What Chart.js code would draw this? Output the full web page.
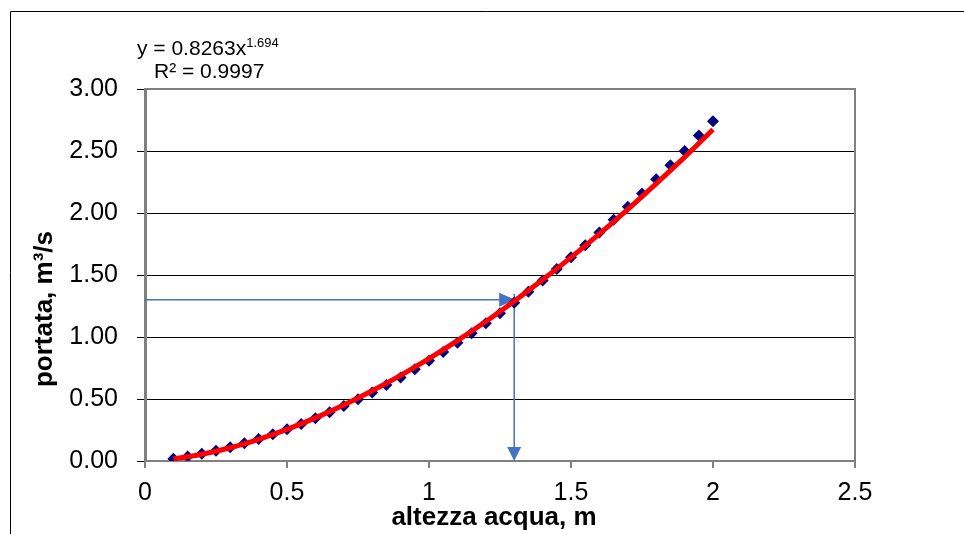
<!DOCTYPE html>
<html><head><meta charset="utf-8">
<script src="https://cdn.jsdelivr.net/npm/chart.js@4/dist/chart.umd.min.js"></script>
<style>html,body{margin:0;padding:0;background:#fff;}#wrap{width:964px;height:534px;position:relative;}</style>
</head><body><div id="wrap"><canvas id="c" width="964" height="534"></canvas></div>
<script>
// Measured data (water height m, discharge m3/s)
const heights = [0.10,0.15,0.20,0.25,0.30,0.35,0.40,0.45,0.50,0.55,0.60,0.65,0.70,0.75,0.80,0.85,0.90,0.95,1.00,1.05,1.10,1.15,1.20,1.25,1.30,1.35,1.40,1.45,1.50,1.55,1.60,1.65,1.70,1.75,1.80,1.85,1.90,1.95,2.00];
const discharges = [0.018,0.036,0.058,0.083,0.111,0.143,0.178,0.216,0.256,0.299,0.345,0.393,0.444,0.497,0.553,0.612,0.674,0.740,0.808,0.880,0.954,1.031,1.110,1.192,1.277,1.364,1.455,1.548,1.643,1.740,1.842,1.945,2.050,2.158,2.272,2.385,2.500,2.625,2.740];
// Power trendline y = 0.8263x^1.694
const trendX = [0.1,0.2,0.3,0.4,0.5,0.6,0.7,0.8,0.9,1.0,1.1,1.2,1.3,1.4,1.5,1.6,1.7,1.8,1.9,2.0];
const trendY = [0.017,0.054,0.107,0.175,0.255,0.348,0.452,0.566,0.691,0.826,0.971,1.125,1.289,1.461,1.642,1.832,2.030,2.237,2.451,2.674];
// Reading example (arrow)
const readX = [1.3];
const readY = [1.3];
const yTicks = [0,0.5,1,1.5,2,2.5,3];
const xTicks = [0,0.5,1,1.5,2,2.5];
const eqMain = "y = 0.8263x";
const eqExp = "1.694";
const eqR2 = "R² = 0.9997";
const xTitle = "altezza acqua, m";
const yTitle = "portata, m³/s";

const FONT = "'Liberation Sans', Arial, sans-serif";
const arrowColor = '#4472C4';

const decorPlugin = {
  id: 'decor',
  beforeDatasetsDraw(chart) {
    const {ctx, chartArea: a, scales: {x, y}} = chart;
    ctx.save();
    ctx.strokeStyle = '#808080'; ctx.lineWidth = 2;
    ctx.beginPath();
    ctx.moveTo(a.left, a.top); ctx.lineTo(a.right, a.top); ctx.lineTo(a.right, a.bottom);
    ctx.stroke();
    const px = x.getPixelForValue(readX[0]);
    const py = y.getPixelForValue(readY[0]);
    const y0 = y.getPixelForValue(0);
    ctx.strokeStyle = arrowColor; ctx.fillStyle = arrowColor; ctx.lineWidth = 1.5;
    ctx.beginPath(); ctx.moveTo(a.left, py); ctx.lineTo(px - 12, py); ctx.stroke();
    ctx.beginPath(); ctx.moveTo(px, py - 6); ctx.lineTo(px, y0 - 12); ctx.stroke();
    ctx.beginPath(); ctx.moveTo(px + 1, py); ctx.lineTo(px - 15, py - 7); ctx.lineTo(px - 15, py + 7); ctx.closePath(); ctx.fill();
    ctx.beginPath(); ctx.moveTo(px, y0); ctx.lineTo(px - 7, y0 - 14); ctx.lineTo(px + 7, y0 - 14); ctx.closePath(); ctx.fill();
    ctx.restore();
  },
  afterDraw(chart) {
    const {ctx} = chart;
    ctx.save();
    ctx.strokeStyle = '#000'; ctx.lineWidth = 1;
    ctx.beginPath(); ctx.moveTo(10.5, 534); ctx.lineTo(10.5, 11.5); ctx.lineTo(964, 11.5); ctx.stroke();
    ctx.fillStyle = '#000';
    ctx.textBaseline = 'alphabetic'; ctx.textAlign = 'left';
    ctx.font = '21px ' + FONT;
    ctx.fillText(eqMain, 137, 55);
    const w = ctx.measureText(eqMain).width;
    ctx.font = '13px ' + FONT;
    ctx.fillText(eqExp, 137 + w, 47);
    ctx.font = '21px ' + FONT;
    ctx.fillText(eqR2, 154, 78);
    ctx.font = 'bold 26px ' + FONT;
    ctx.textAlign = 'center'; ctx.textBaseline = 'middle';
    ctx.fillText(xTitle, 494, 518);
    ctx.translate(45, 309); ctx.rotate(-Math.PI / 2);
    ctx.fillText(yTitle, 0, 0);
    ctx.restore();
  }
};

new Chart(document.getElementById('c'), {
  type: 'scatter',
  data: {
    datasets: [
      {
        label: 'trend', type: 'line',
        data: trendX.map((v, i) => ({x: v, y: trendY[i]})),
        borderColor: '#FF0000', borderWidth: 5, pointRadius: 0, fill: false,
        cubicInterpolationMode: 'monotone', borderCapStyle: 'butt'
      },
      {
        label: 'portata',
        data: heights.map((v, i) => ({x: v, y: discharges[i]})),
        pointStyle: 'rectRot', pointRadius: 6, pointHoverRadius: 6,
        backgroundColor: '#000080', borderColor: '#000080', borderWidth: 0, showLine: false
      }
    ]
  },
  options: {
    responsive: false, animation: false, devicePixelRatio: 1,
    layout: {padding: {top: 89, right: 109, left: 0, bottom: 0}},
    plugins: {legend: {display: false}, tooltip: {enabled: false}},
    scales: {
      x: {
        type: 'linear', min: 0, max: 2.5,
        afterBuildTicks: s => { s.ticks = xTicks.map(v => ({value: v})); },
        afterFit: s => { s.height = 73; },
        ticks: {color: '#000', font: {family: FONT, size: 25}, padding: 10, maxRotation: 0,
          callback: v => String(v)},
        grid: {drawOnChartArea: false, color: '#808080', tickLength: 7, lineWidth: 2},
        border: {color: '#808080', width: 2}
      },
      y: {
        type: 'linear', min: 0, max: 3,
        afterBuildTicks: s => { s.ticks = yTicks.map(v => ({value: v})); },
        afterFit: s => { s.width = 145; },
        ticks: {color: '#000', font: {family: FONT, size: 25}, padding: 19,
          callback: v => Number(v).toFixed(2)},
        grid: {color: '#000', lineWidth: 1, tickLength: 8, drawTicks: true},
        border: {color: '#808080', width: 3}
      }
    }
  },
  plugins: [decorPlugin]
});
</script></body></html>
